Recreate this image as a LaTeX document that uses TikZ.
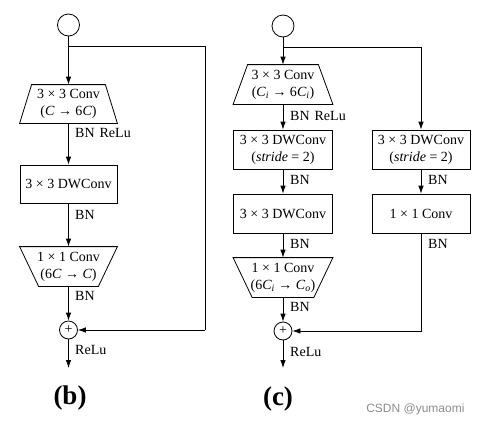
\documentclass[tikz,border=0pt]{standalone}
\usepackage{fontspec}
\setmainfont{Liberation Serif}
\newfontfamily\wmfont{Liberation Sans}
\usetikzlibrary{arrows.meta}

\begin{document}
\begin{tikzpicture}[x=1pt,y=-1pt,
		font=\fontsize{14}{17}\selectfont,
		box/.style={draw,line width=0.8pt,rectangle,minimum width=97pt,minimum height=38pt,inner sep=0pt,align=center},
		trapbox/.style={box,draw=none},
		io/.style={draw,line width=0.8pt,circle,minimum size=22pt,inner sep=0pt},
		add/.style={draw,line width=0.8pt,circle,minimum size=18pt,inner sep=0pt},
		arr/.style={line width=0.8pt,-{Latex[length=8pt,width=5.5pt]}},
		wire/.style={line width=0.8pt},
		lbl/.style={anchor=west,inner sep=0pt}]
	\useasboundingbox (0,0) rectangle (482,426);
	% (b)
	\node[io] (inb) at (68.5,25) {};
	\node[trapbox] (cb1) at (68.5,104) {3 × 3 Conv\\(\textit{C} → 6\textit{C})};
	\draw[wire] ([xshift=12pt]cb1.north west) -- ([xshift=-12pt]cb1.north east) -- (cb1.south east) -- (cb1.south west) -- cycle;
	\node[box] (cb2) at (68.5,184) {3 × 3 DWConv};
	\node[trapbox,minimum height=39pt] (cb3) at (68.5,266.5) {1 × 1 Conv\\(6\textit{C} → \textit{C})};
	\draw[wire] (cb3.north west) -- (cb3.north east) -- ([xshift=-19pt]cb3.south east) -- ([xshift=19pt]cb3.south west) -- cycle;
	\node[add] (addb) at (68.5,330) {+};
	\coordinate (bsplit) at (68.5,46);
	\coordinate (bskip) at (205,330);
	\coordinate (outb) at (68.5,368);
	\draw[arr] (inb) -- (cb1);
	\draw[arr] (cb1) -- (cb2);
	\draw[arr] (cb2) -- (cb3);
	\draw[arr] (cb3) -- (addb);
	\draw[arr] (addb) -- (outb);
	\draw[wire] (bsplit) -| (bskip);
	\draw[arr] (bskip) -- (addb);
	\node[lbl] (bnb1) at (75,133) {BN\hspace{5pt}ReLu};
	\node[lbl] (bnb2) at (75,215) {BN};
	\node[lbl] (bnb3) at (75,296) {BN};
	\node[lbl] (relub) at (75,350) {ReLu};
	\node[font=\fontsize{27}{30}\selectfont\bfseries] (capb) at (70,398) {(b)};
	% (c)
	\node[io] (inc) at (283,26) {};
	\node[trapbox,minimum width=99pt,minimum height=39pt] (cc1) at (283,84.5) {3 × 3 Conv\\(\textit{C\textsubscript{i}} → 6\textit{C\textsubscript{i}})};
	\draw[wire] ([xshift=14.5pt]cc1.north west) -- ([xshift=-14.5pt]cc1.north east) -- (cc1.south east) -- (cc1.south west) -- cycle;
	\node[box,minimum width=99pt,minimum height=39pt] (cc2) at (283,149.5) {3 × 3 DWConv\\(\textit{stride} = 2)};
	\node[box,minimum width=99pt,minimum height=39pt] (cc3) at (283,213.5) {3 × 3 DWConv};
	\node[trapbox,minimum width=99pt,minimum height=39pt] (cc4) at (283,277.5) {1 × 1 Conv\\(6\textit{C\textsubscript{i}} → \textit{C\textsubscript{o}})};
	\draw[wire] (cc4.north west) -- (cc4.north east) -- ([xshift=-19pt]cc4.south east) -- ([xshift=19pt]cc4.south west) -- cycle;
	\node[add] (addc) at (283,331) {+};
	\node[box,minimum width=98pt,minimum height=39pt] (sc1) at (421,149.5) {3 × 3 DWConv\\(\textit{stride} = 2)};
	\node[box,minimum width=98pt,minimum height=39pt] (sc2) at (421,213.5) {1 × 1 Conv};
	\coordinate (csplit) at (283,47);
	\coordinate (outc) at (283,368);
	\draw[arr] (inc) -- (cc1);
	\draw[arr] (cc1) -- (cc2);
	\draw[arr] (cc2) -- (cc3);
	\draw[arr] (cc3) -- (cc4);
	\draw[arr] (cc4) -- (addc);
	\draw[arr] (addc) -- (outc);
	\draw[arr] (csplit) -| (sc1);
	\draw[arr] (sc1) -- (sc2);
	\draw[arr] (sc2) |- (addc);
	\node[lbl] (bnc1) at (290,116) {BN\hspace{5pt}ReLu};
	\node[lbl] (bnc2) at (290,180) {BN};
	\node[lbl] (bnc3) at (290,244) {BN};
	\node[lbl] (bnc4) at (290,307) {BN};
	\node[lbl] (reluc) at (290,352) {ReLu};
	\node[lbl] (bns1) at (428,180) {BN};
	\node[lbl] (bns2) at (428,244) {BN};
	\node[font=\fontsize{27}{30}\selectfont\bfseries] (capc) at (278,399) {(c)};
	\node[font=\wmfont\fontsize{12}{14}\selectfont,text=black!45,anchor=east] (wm) at (468,409) {CSDN @yumaomi};
\end{tikzpicture}
\end{document}
